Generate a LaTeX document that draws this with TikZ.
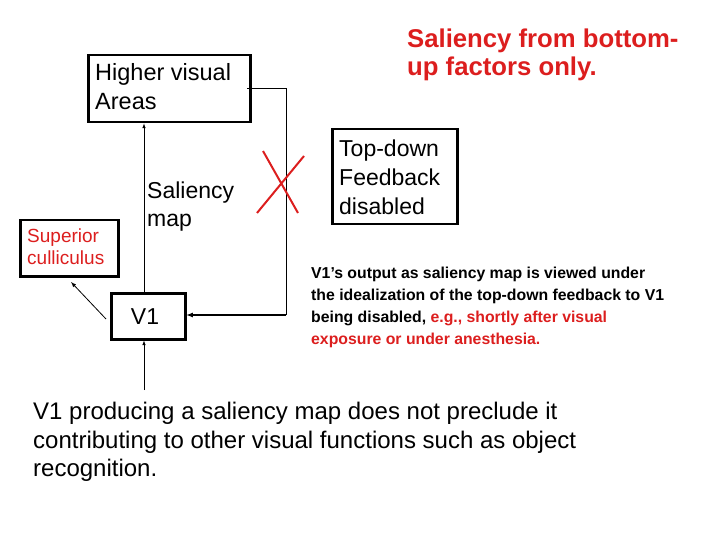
\documentclass[tikz,border=0pt]{standalone}
\usepackage{fontspec}
\setmainfont{Liberation Sans}
\definecolor{myred}{RGB}{220,30,30}
\begin{document}
\begin{tikzpicture}[x=1pt,y=-1pt,
  box/.style={draw,line width=2.5pt,inner sep=0pt},
  txt/.style={align=left,anchor=west,inner sep=0pt},
  arr/.style={-latex,line width=0.6pt},
  >=latex]
\useasboundingbox (0,0) rectangle (720,540);
\node[box,minimum width=162,minimum height=67,anchor=north west] (hva) at (87,54) {};
\node[txt,font=\fontsize{23.5}{29}\selectfont] (hvat) at (95,87) {Higher visual\\Areas};
\node[box,minimum width=125,minimum height=95,anchor=north west] (td) at (331,128) {};
\node[txt,font=\fontsize{23}{29}\selectfont] (tdt) at (339,177) {Top-down\\Feedback\\disabled};
\node[box,minimum width=98,minimum height=56,anchor=north west] (sc) at (19,219) {};
\node[txt,font=\fontsize{19}{22}\selectfont,text=myred] (sct) at (27,247) {Superior\\culliculus};
\node[box,minimum width=74,minimum height=46,anchor=north west] (v1) at (110,292) {};
\node[font=\fontsize{23}{24}\selectfont] (v1t) at (145,317) {V1};
\node[txt,font=\fontsize{23}{28}\selectfont] (sm) at (147,207) {Saliency\\map};
\coordinate (in) at (144,390);
\coordinate (fb1) at (247,88);
\coordinate (fb2) at (286,88);
\coordinate (fb3) at (286,315);
\draw[arr] (v1.north -| in) -- (hva.south -| in);
\draw[arr] (in) -- (in |- v1.south);
\draw[arr,line width=0.8pt] (106,319) -- (71,282);
\draw[line width=0.6pt] (fb1) -- (fb2) -- (fb3);
\draw[arr,line width=1.2pt] (fb3) -- (v1.east |- fb3);
\draw[myred,line width=2pt] (257,213) -- (304,156) (263,151) -- (298,213);
\node[txt,font=\bfseries\fontsize{25.7}{28}\selectfont,text=myred] (hd) at (407,55) {Saliency from bottom-\\up factors only.};
\node[txt,font=\bfseries\fontsize{15.8}{22}\selectfont] (p) at (311,307) {V1’s output as saliency map is viewed under\\the idealization of the top-down feedback to V1\\being disabled, \textcolor{myred}{e.g., shortly after visual}\\\textcolor{myred}{exposure or under anesthesia.}};
\node[txt,font=\fontsize{24}{28.5}\selectfont] (b) at (33,442) {V1 producing a saliency map does not preclude it\\contributing to other visual functions such as object\\recognition.};
\end{tikzpicture}
\end{document}
